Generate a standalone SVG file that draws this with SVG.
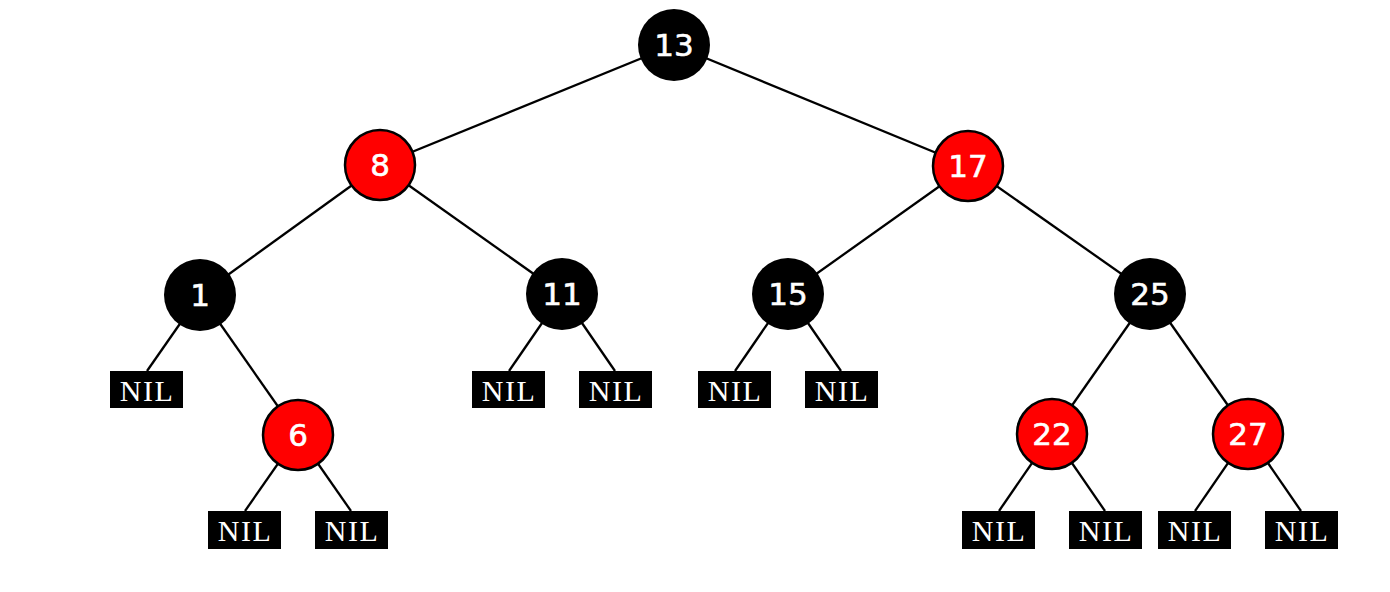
<svg xmlns="http://www.w3.org/2000/svg" width="1390" height="592" viewBox="0 0 1390 592">
<style>
.e{stroke:#000;stroke-width:2.3;fill:none}
.b{fill:#000}
.r{fill:#f00;stroke:#000;stroke-width:2.5}
.n{fill:#fff;font-family:"DejaVu Sans",sans-serif;font-size:31px;text-anchor:middle;dominant-baseline:central;stroke:#fff;stroke-width:0.6}
.nil{fill:#000}
.nt{fill:#fff;font-family:"Liberation Serif",serif;font-size:30px;letter-spacing:1.5px;text-anchor:middle;dominant-baseline:central}
</style>
<rect width="1390" height="592" fill="#fff"/>
<g id="edges">
<line class="e" x1="674" y1="45" x2="380" y2="165"/>
<line class="e" x1="674" y1="45" x2="968" y2="166"/>
<line class="e" x1="380" y1="165" x2="200" y2="295"/>
<line class="e" x1="380" y1="165" x2="562" y2="294"/>
<line class="e" x1="968" y1="166" x2="788" y2="294"/>
<line class="e" x1="968" y1="166" x2="1150" y2="294"/>
<line class="e" x1="200" y1="295" x2="147" y2="371"/>
<line class="e" x1="200" y1="295" x2="298" y2="435"/>
<line class="e" x1="298" y1="435" x2="245" y2="511"/>
<line class="e" x1="298" y1="435" x2="351" y2="511"/>
<line class="e" x1="562" y1="294" x2="509" y2="371"/>
<line class="e" x1="562" y1="294" x2="615" y2="371"/>
<line class="e" x1="788" y1="294" x2="735" y2="371"/>
<line class="e" x1="788" y1="294" x2="841" y2="371"/>
<line class="e" x1="1150" y1="294" x2="1052" y2="434"/>
<line class="e" x1="1150" y1="294" x2="1248" y2="434"/>
<line class="e" x1="1052" y1="434" x2="999" y2="511"/>
<line class="e" x1="1052" y1="434" x2="1105" y2="511"/>
<line class="e" x1="1248" y1="434" x2="1195" y2="511"/>
<line class="e" x1="1248" y1="434" x2="1301" y2="511"/>
</g>
<g id="n13"><circle class="b" cx="674" cy="45" r="36"/><text class="n" x="674" y="45">13</text></g>
<g id="n8"><circle class="r" cx="380" cy="165" r="35"/><text class="n" x="380" y="165">8</text></g>
<g id="n17"><circle class="r" cx="968" cy="166" r="35"/><text class="n" x="968" y="166">17</text></g>
<g id="n1"><circle class="b" cx="200" cy="295" r="36"/><text class="n" x="200" y="295">1</text></g>
<g id="n11"><circle class="b" cx="562" cy="294" r="36"/><text class="n" x="562" y="294">11</text></g>
<g id="n15"><circle class="b" cx="788" cy="294" r="36"/><text class="n" x="788" y="294">15</text></g>
<g id="n25"><circle class="b" cx="1150" cy="294" r="36"/><text class="n" x="1150" y="294">25</text></g>
<g id="n6"><circle class="r" cx="298" cy="435" r="35"/><text class="n" x="298" y="435">6</text></g>
<g id="n22"><circle class="r" cx="1052" cy="434" r="35"/><text class="n" x="1052" y="434">22</text></g>
<g id="n27"><circle class="r" cx="1248" cy="434" r="35"/><text class="n" x="1248" y="434">27</text></g>
<g id="nil1"><rect class="nil" x="110" y="371" width="73" height="37"/><text class="nt" x="147" y="390">NIL</text></g>
<g id="nil2"><rect class="nil" x="208" y="511" width="73" height="38"/><text class="nt" x="245" y="530">NIL</text></g>
<g id="nil3"><rect class="nil" x="315" y="511" width="73" height="38"/><text class="nt" x="352" y="530">NIL</text></g>
<g id="nil4"><rect class="nil" x="472" y="371" width="73" height="37"/><text class="nt" x="509" y="390">NIL</text></g>
<g id="nil5"><rect class="nil" x="579" y="371" width="73" height="37"/><text class="nt" x="616" y="390">NIL</text></g>
<g id="nil6"><rect class="nil" x="698" y="371" width="73" height="37"/><text class="nt" x="735" y="390">NIL</text></g>
<g id="nil7"><rect class="nil" x="805" y="371" width="73" height="37"/><text class="nt" x="842" y="390">NIL</text></g>
<g id="nil8"><rect class="nil" x="962" y="511" width="73" height="38"/><text class="nt" x="999" y="530">NIL</text></g>
<g id="nil9"><rect class="nil" x="1069" y="511" width="73" height="38"/><text class="nt" x="1106" y="530">NIL</text></g>
<g id="nil10"><rect class="nil" x="1158" y="511" width="73" height="38"/><text class="nt" x="1195" y="530">NIL</text></g>
<g id="nil11"><rect class="nil" x="1265" y="511" width="73" height="38"/><text class="nt" x="1302" y="530">NIL</text></g>
</svg>
